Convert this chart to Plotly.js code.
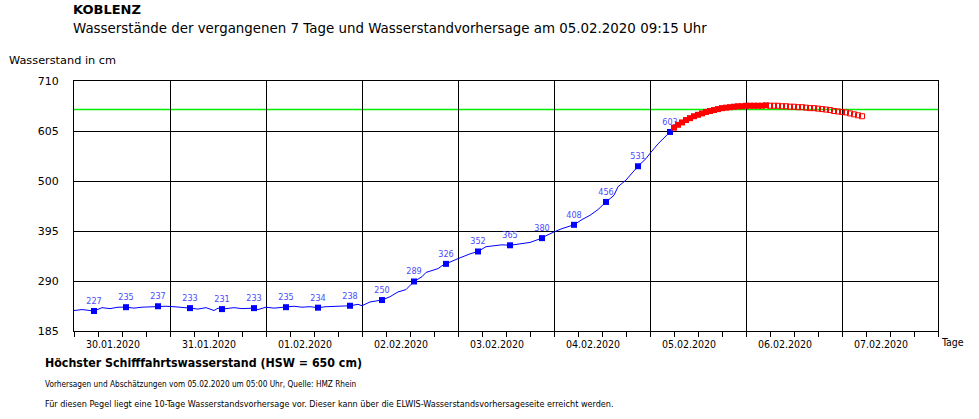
<!DOCTYPE html>
<html>
<head>
<meta charset="utf-8">
<script src="https://cdn.plot.ly/plotly-3.0.1.min.js"></script>
<style>
  html, body { margin: 0; padding: 0; background: #fff; }
  #chart { width: 979px; height: 419px; }
</style>
</head>
<body>
<div id="chart"></div>
<script>
// ---- Data (hours counted from 30.01.2020 00:00) ----
const obsHours  = [0, 2, 5, 7, 9, 11, 13, 15, 17, 19, 21, 23, 25, 27, 29, 31, 33, 35, 36, 37,
                   40, 42, 45, 46, 48, 50, 51, 53, 55, 57, 59, 61, 63, 66, 69, 71, 72, 74, 77,
                   79, 81, 83, 84, 85, 87, 88, 91, 92, 93, 95, 96, 99, 101, 103, 105, 107, 109,
                   111, 114, 117, 118, 120, 122, 125, 127, 129, 131, 133, 135, 136, 138, 141,
                   143, 144, 146, 149];
const obsLevels = [228, 230, 227, 234, 232, 235, 235, 233, 235, 236, 237, 237, 236, 235, 233, 231, 234, 228, 233, 231,
                   234, 232, 233, 230, 235, 233, 234, 235, 237, 235, 236, 234, 236, 237, 238, 241, 238, 246, 250,
                   257, 267, 272, 281, 289, 299, 308, 316, 322, 326, 334, 337, 347, 352, 362, 364, 366, 365,
                   368, 371, 380, 385, 393, 400, 408, 419, 428, 440, 456, 470, 488, 502, 531,
                   547, 558, 578, 603];

const labelHours  = [5, 13, 21, 29, 37, 45, 53, 61, 69, 77, 85, 93, 101, 109, 117, 125, 133, 141, 149];
const labelLevels = [227, 235, 237, 233, 231, 233, 235, 234, 238, 250, 289, 326, 352, 365, 380, 408, 456, 531, 603];

const forecastHours  = [150, 151, 152, 153, 154, 155, 156, 157, 158, 159, 160, 161,
                        162, 163, 164, 165, 166, 167, 168, 169, 170, 171, 172, 173];
const forecastLevels = [612, 618, 623, 628, 632, 636, 639, 642, 645, 647, 649, 651,
                        653, 654, 655, 656, 657, 657, 658, 658, 658, 658, 658, 659];

const estimateHours  = [174, 175, 176, 177, 178, 179, 180, 181, 182, 183, 184, 185,
                        186, 187, 188, 189, 190, 191, 192, 193, 194, 195, 196, 197];
const estimateLevels = [658, 658, 658, 657, 657, 656, 656, 655, 655, 654, 653, 653,
                        652, 651, 650, 649, 647, 646, 645, 644, 642, 640, 638, 636];

const hswLevel = 650;
const yTicks = [185, 290, 395, 500, 605, 710];
const xStart = '2020-01-30 00:00';
const xEnd   = '2020-02-08 00:00';

// ---- helpers ----
const base = Date.UTC(2020, 0, 30, 0, 0, 0);
const toDate = h => new Date(base + h * 3600000).toISOString().slice(0, 19).replace('T', ' ');

const fontMain = '"DejaVu Sans", Verdana, sans-serif';
const fontCond = '"DejaVu Sans Condensed", "DejaVu Sans", sans-serif';

const traces = [
  {
    x: obsHours.map(toDate), y: obsLevels, type: 'scatter', mode: 'lines',
    line: { color: '#0000ff', width: 1 }, hoverinfo: 'skip', showlegend: false
  },
  {
    x: labelHours.map(toDate), y: labelLevels, type: 'scatter', mode: 'markers+text',
    marker: { symbol: 'square', size: 6, color: '#0000ff' },
    text: labelLevels.map(String), textposition: 'top center',
    textfont: { family: fontCond, size: 9, color: '#4a4aff' },
    showlegend: false
  },
  {
    x: forecastHours.map(toDate), y: forecastLevels, type: 'scatter', mode: 'markers',
    marker: { symbol: 'square', size: 6, color: '#ff0000', line: { width: 0 } },
    showlegend: false
  },
  {
    x: estimateHours.map(toDate), y: estimateLevels, type: 'scatter', mode: 'markers',
    marker: { symbol: 'square-open', size: 5, color: '#ff0000', line: { width: 1, color: '#ff0000' } },
    showlegend: false
  }
];

const ann = (text, x, y, opts) => Object.assign({
  text, x, y, xref: 'paper', yref: 'paper', xanchor: 'left', yanchor: 'middle',
  showarrow: false, font: { family: fontMain, size: 11, color: '#000' }
}, opts || {});

const layout = {
  width: 979, height: 419,
  margin: { l: 74, r: 41, t: 81, b: 88 },
  paper_bgcolor: '#fff', plot_bgcolor: '#fff',
  showlegend: false,
  xaxis: {
    type: 'date', range: [xStart, xEnd],
    tick0: xStart, dtick: 86400000,
    tickformat: '%d.%m.%Y', ticklabelmode: 'period', ticklabelshift: -9, ticklabelstandoff: -2,
    ticks: 'outside', ticklen: 5, tickcolor: '#000',
    minor: { dtick: 21600000, ticks: 'outside', ticklen: 5, tickcolor: '#000', showgrid: false },
    showgrid: true, gridcolor: '#000', gridwidth: 1,
    showline: true, linecolor: '#000', linewidth: 1, mirror: true,
    zeroline: false, fixedrange: true,
    tickfont: { family: fontCond, size: 10.5, color: '#000' }
  },
  yaxis: {
    range: [185, 710], tickmode: 'array', tickvals: yTicks, ticktext: yTicks.map(String),
    ticks: '', ticklabelstandoff: 12,
    showgrid: true, gridcolor: '#000', gridwidth: 1,
    showline: true, linecolor: '#000', linewidth: 1, mirror: true,
    zeroline: false, fixedrange: true,
    tickfont: { family: fontMain, size: 11, color: '#000' }
  },
  shapes: [
    { type: 'line', xref: 'paper', x0: 0, x1: 1, yref: 'y', y0: hswLevel, y1: hswLevel,
      line: { color: '#00ee00', width: 1.5 }, layer: 'below' }
  ],
  annotations: [
    ann('<b>KOBLENZ</b>', -0.003, 1.285, { font: { family: fontMain, size: 13, color: '#000' } }),
    ann('Wasserstände der vergangenen 7 Tage und Wasserstandvorhersage am 05.02.2020 09:15 Uhr', -0.003, 1.21,
        { font: { family: fontMain, size: 13.4, color: '#000' } }),
    ann('Wasserstand in cm', -0.077, 1.08, { font: { family: fontMain, size: 11.3, color: '#000' } }),
    ann('Tage', 1.001, -0.044, { font: { family: fontCond, size: 10.5, color: '#000' } }),
    ann('<b>Höchster Schifffahrtswasserstand (HSW = 650 cm)</b>', -0.036, -0.128,
        { font: { family: fontCond, size: 12.3, color: '#000' } }),
    ann('Vorhersagen und Abschätzungen vom 05.02.2020 um 05:00 Uhr, Quelle: HMZ Rhein', -0.036, -0.21,
        { font: { family: fontCond, size: 8.2, color: '#000' } }),
    ann('Für diesen Pegel liegt eine 10-Tage Wasserstandsvorhersage vor. Dieser kann über die ELWIS-Wasserstandsvorhersageseite erreicht werden.', -0.036, -0.292,
        { font: { family: fontCond, size: 9, color: '#000' } })
  ]
};

Plotly.newPlot('chart', traces, layout, { displayModeBar: false, staticPlot: true });
</script>
</body>
</html>
